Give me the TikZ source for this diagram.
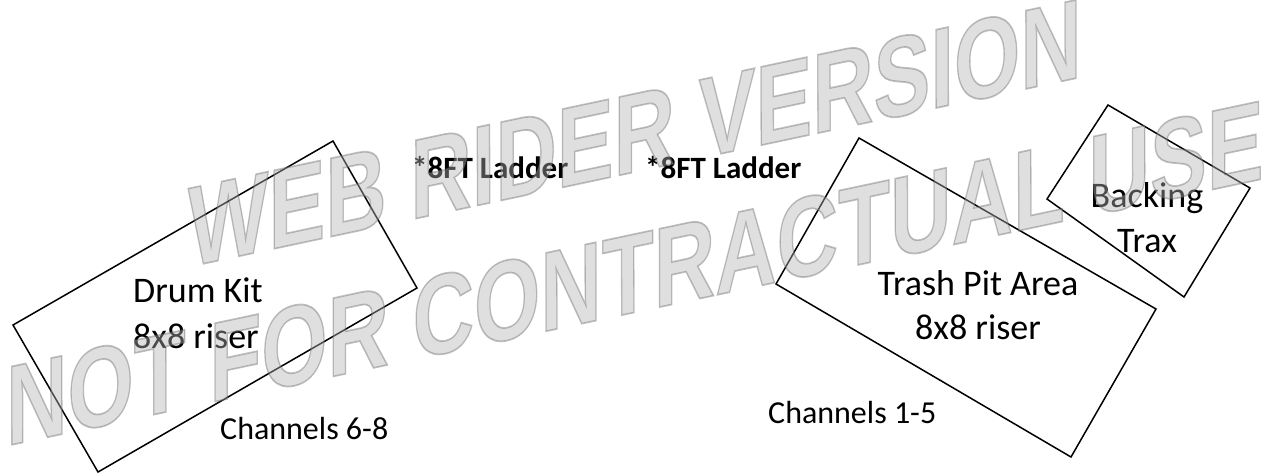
\documentclass[tikz,border=0pt]{standalone}
\usepackage{fontspec}
\setmainfont{Carlito}
\newfontfamily\wmfont{Liberation Sans}

% outlined text: fill and stroke the glyphs (PDF text render mode 2)
\newcommand\outlinetext[1]{\special{pdf:literal direct 2 Tr 1.3 w 0.42 G}#1\special{pdf:literal direct 0 Tr}}

\definecolor{wmfill}{gray}{0.70}

\tikzset{
  riser/.style={draw=black, line width=1.5pt, line join=miter},
  bigtext/.style={font=\fontsize{36}{40}\selectfont, inner sep=0pt},
  chantext/.style={font=\fontsize{32}{36}\selectfont, inner sep=0pt, anchor=base west},
  laddertext/.style={font=\bfseries\fontsize{31}{34}\selectfont, inner sep=0pt, anchor=base west},
  stamp/.style={font=\wmfont\bfseries\fontsize{87}{90}\selectfont,
    inner sep=0pt, anchor=base west, text=wmfill},
  stampframe/.style={rotate=12, yscale=1.28, xslant=0.27, transform shape,
    fill opacity=0.42, text opacity=0.42, draw opacity=0.85}
}

\begin{document}
\begin{tikzpicture}[x=1pt, y=-1pt]
\useasboundingbox (0,0) rectangle (1268,475);

% drum riser
\coordinate (d1) at (13,325);
\coordinate (d2) at (333,141);
\coordinate (d3) at (417,288);
\coordinate (d4) at (98,472);
\draw[riser] (d1) -- (d2) -- (d3) -- (d4) -- cycle;

% trash pit riser
\coordinate (t1) at (859,138);
\coordinate (t2) at (1156,309);
\coordinate (t3) at (1071,457);
\coordinate (t4) at (776,284);
\draw[riser] (t1) -- (t2) -- (t3) -- (t4) -- cycle;

% backing tracks table
\coordinate (b1) at (1108,105);
\coordinate (b2) at (1250,188);
\coordinate (b3) at (1184,297);
\coordinate (b4) at (1047,199);
\draw[riser] (b1) -- (b2) -- (b3) -- (b4) -- cycle;

% labels
\node[bigtext, anchor=base west] (drum) at (133,302) {Drum Kit};
\node[bigtext, anchor=base west] (drumriser) at (133,348) {8x8 riser};
\node[chantext] (ch68) at (220,439) {Channels 6-8};

\node[laddertext] (ladderA) at (412,178) {*8FT Ladder};
\node[laddertext] (ladderB) at (645,178) {*8FT Ladder};

\node[bigtext, anchor=base] (trash) at (978,295) {Trash Pit Area};
\node[bigtext, anchor=base] (trashriser) at (978,339) {8x8 riser};
\node[chantext] (ch15) at (768,423) {Channels 1-5};

\node[bigtext, anchor=base] (backing) at (1147,207) {Backing};
\node[bigtext, anchor=base] (trax) at (1147,252) {Trax};

% stamp across the sheet
\begin{scope}[shift={(188,267)}, stampframe]
  \node[stamp] (stampA) at (0,0) {\outlinetext{WEB RIDER VERSION}};
\end{scope}
\begin{scope}[shift={(6,446)}, stampframe]
  \node[stamp] (stampB) at (0,0) {\outlinetext{NOT FOR CONTRACTUAL USE}};
\end{scope}
\end{tikzpicture}
\end{document}
